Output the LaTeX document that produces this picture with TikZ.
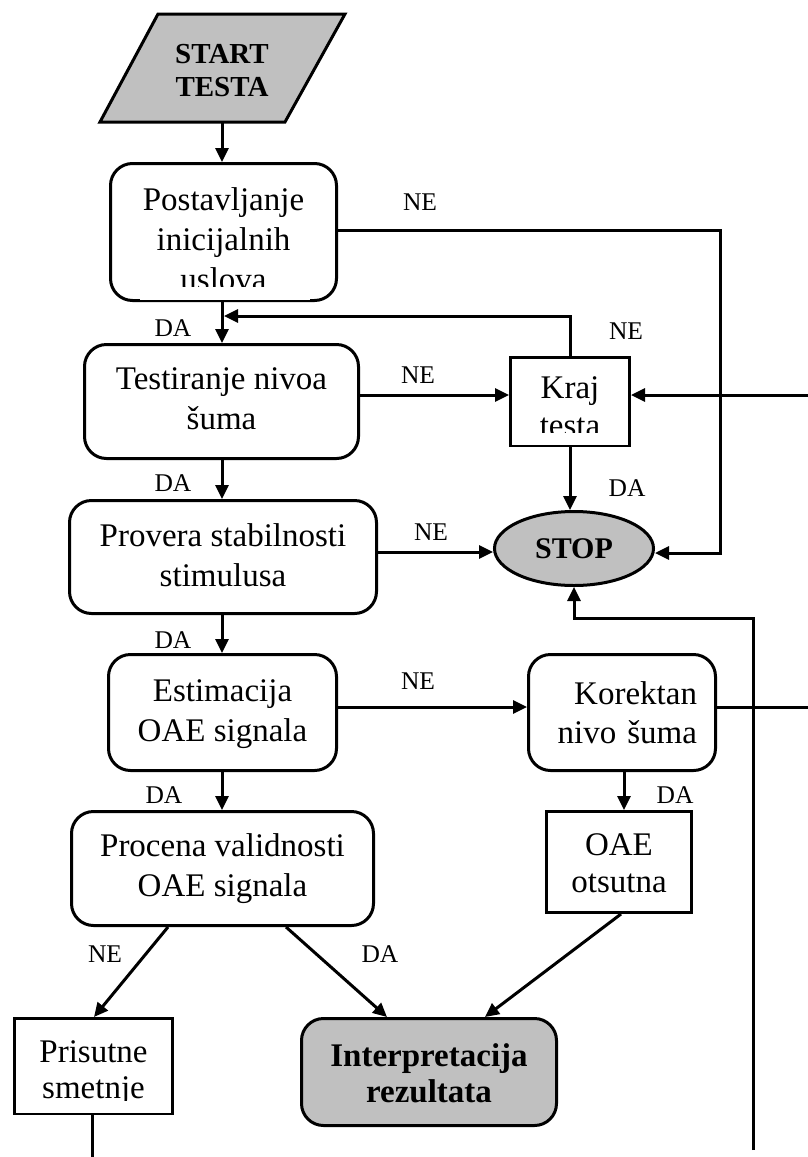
\documentclass[tikz,border=0pt]{standalone}
\usepackage{fontspec}
\setmainfont{Liberation Serif}
\usetikzlibrary{arrows.meta,shapes.geometric,calc}
\definecolor{boxgray}{RGB}{192,192,192}
\newcommand{\pushdown}[1]{\rule{0pt}{#1pt}}
\newcommand{\pushup}[1]{\rule[-#1pt]{0pt}{#1pt}}
\begin{document}
\begin{tikzpicture}[x=1pt,y=-1pt,
  every node/.style={font=\fontsize{33}{40}\selectfont},
  rbox/.style={draw,line width=3pt,rounded corners=22pt,align=center,inner sep=0pt},
  sbox/.style={draw,line width=3pt,align=center,inner sep=0pt},
  lbl/.style={font=\fontsize{25.5}{30}\selectfont,inner sep=0pt},
  conn/.style={line width=3pt},
  arr/.style={conn,-{Triangle[length=14pt,width=13pt]}},
  hide/.style={fill=white,draw=none},
]
\useasboundingbox (0,0) rectangle (808,1157);
% start parallelogram
\filldraw[fill=boxgray,line width=3pt] (158,14) -- (345,14) -- (285,122) -- (100,122) -- cycle;
\node[align=center,font=\fontsize{29}{33}\selectfont\bfseries] (start) at (222,71) {START\\TESTA};
\coordinate (startbot) at (222,122);
% boxes
\node[rbox,minimum width=226pt,minimum height=137pt] (post) at (223.5,232) {\pushdown{37}Postavljanje\\inicijalnih\\uslova};
\node[rbox,minimum width=274pt,minimum height=114pt] (test) at (221.5,401.5) {Testiranje nivoa\\šuma\pushup{5.5}};
\node[sbox,minimum width=119pt,minimum height=88pt] (kraj) at (570,401.5) {\pushdown{33}Kraj\\[-2pt]testa};
\node[ellipse,draw,line width=3pt,fill=boxgray,minimum width=159pt,minimum height=74pt,inner sep=0pt,font=\fontsize{30}{36}\selectfont\bfseries] (stop) at (574,548.5) {STOP};
\node[rbox,minimum width=307pt,minimum height=113pt] (prov) at (223,557) {Provera stabilnosti\\stimulusa\pushup{4.5}};
\node[rbox,minimum width=228pt,minimum height=116pt] (est) at (222.5,712.5) {\pushdown{26}Estimacija\\OAE signala};
\node[rbox,minimum width=187pt,minimum height=116pt,align=right,text width=150pt] (kor) at (622,712.5) {Korektan\\[-1pt]nivo šuma};
\node[rbox,minimum width=302pt,minimum height=114pt] (proc) at (222.5,868.5) {\pushdown{24}Procena validnosti\\OAE signala};
\node[sbox,minimum width=145pt,minimum height=101pt] (oae) at (619,862) {\pushdown{24}OAE\\[-3pt]otsutna};
\node[sbox,minimum width=158pt,minimum height=95pt] (pris) at (93.5,1066) {\pushdown{35}Prisutne\\[-4pt]smetnje};
\node[rbox,fill=boxgray,minimum width=255pt,minimum height=107pt,font=\fontsize{33}{40}\selectfont\bfseries] (interp) at (429,1072) {\pushdown{26}Interpretacija\\[-4pt]rezultata};
% clipped text bottoms
\fill[hide] (140,287) rectangle (310,300);
\fill[hide] (512,433) rectangle (628,445);
\fill[hide] (16,1101) rectangle (171,1113);
% free ends
\coordinate (rk) at (808,395);
\coordinate (rkor) at (808,707);
\coordinate (bot1) at (753,1150);
\coordinate (bot2) at (92,1157);
% connectors
\draw[arr] (startbot) -- (startbot |- post.north);
\draw[arr] (post.south -| startbot) -- (test.north -| startbot);
\draw[arr] (post.east |- 0,230) -- (720,230) -- (720,553) -- (stop.east |- 0,553);
\draw[arr] (kraj.north) -- (570,316) -- (224,316);
\draw[arr] (test.east |- 0,395) -- (kraj.west |- 0,395);
\draw[arr] (rk) -- (kraj.east |- rk);
\draw[arr] (kraj.south) -- (kraj.south |- stop.north);
\draw[arr] (prov.east |- 0,552) -- (stop.west |- 0,552);
\draw[arr] (test.south -| startbot) -- (prov.north -| startbot);
\draw[arr] (prov.south -| startbot) -- (est.north -| startbot);
\draw[arr] (bot1) -- (753,618) -- (574,618) -- (stop.south);
\draw[arr] (est.east |- 0,707) -- (kor.west |- 0,707);
\draw[conn] (kor.east |- rkor) -- (rkor);
\draw[arr] (est.south -| startbot) -- (proc.north -| startbot);
\draw[arr] (kor.south -| 624,0) -- (oae.north -| 624,0);
\draw[arr] (proc.south -| 168,0) -- (pris.north -| 94,0);
\draw[arr] (proc.south -| 286,0) -- (interp.north -| 387,0);
\draw[arr] (oae.south -| 621,0) -- (interp.north -| 485,0);
\draw[conn] (pris.south -| bot2) -- (bot2);
% labels
\node[lbl] (l1) at (420,202) {NE};
\node[lbl] (l2) at (173,328) {DA};
\node[lbl] (l3) at (626,331) {NE};
\node[lbl] (l4) at (418,375) {NE};
\node[lbl] (l5) at (627,488) {DA};
\node[lbl] (l6) at (431,532) {NE};
\node[lbl] (l7) at (173,483) {DA};
\node[lbl] (l8) at (173,640) {DA};
\node[lbl] (l9) at (418,681) {NE};
\node[lbl] (l10) at (164,795) {DA};
\node[lbl] (l11) at (675,795) {DA};
\node[lbl] (l12) at (105,954) {NE};
\node[lbl] (l13) at (380,954) {DA};
\end{tikzpicture}
\end{document}
